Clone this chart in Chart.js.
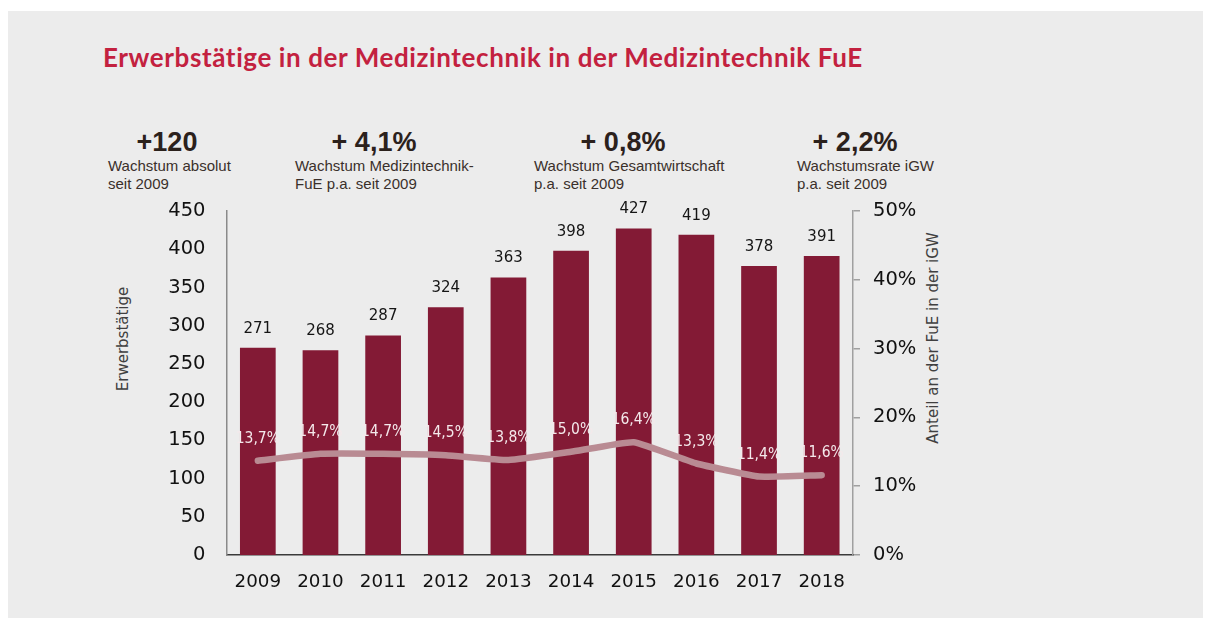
<!DOCTYPE html>
<html>
<head>
<meta charset="utf-8">
<script src="https://cdn.jsdelivr.net/npm/chart.js@4.4.0/dist/chart.umd.min.js"></script>
<style>
  html,body{margin:0;padding:0;background:#fff;width:1206px;height:618px;overflow:hidden;}
  #bg{position:absolute;left:8px;top:11px;width:1195px;height:607px;background:#ececec;}
  #wrap{position:absolute;left:0;top:0;width:1206px;height:618px;}
  .title{position:absolute;left:103px;top:44px;font:700 26px Lato,'Open Sans',sans-serif;line-height:26px;color:#c3213f;white-space:nowrap;letter-spacing:0.6px;}
  .kh{position:absolute;width:200px;text-align:center;top:129px;font:700 27px 'Liberation Sans',Arial,sans-serif;line-height:27px;color:#2b211c;white-space:nowrap;}
  .ks{position:absolute;top:157px;font:400 15px 'Liberation Sans',Arial,sans-serif;line-height:17.6px;color:#3a302b;white-space:nowrap;}
  .at{position:absolute;transform:translate(-50%,-50%) rotate(-90deg);font:400 15px 'DejaVu Sans',Verdana,sans-serif;color:#404040;white-space:nowrap;}
</style>
</head>
<body>
<div id="bg"></div>
<div class="title" id="title">Erwerbstätige in der Medizintechnik in der Medizintechnik FuE</div>
<div id="kpis"></div>
<div class="at" style="left:122.5px;top:338.5px;">Erwerbstätige</div>
<div class="at" style="left:933px;top:337.5px;">Anteil an der FuE in der iGW</div>
<div id="wrap"><canvas id="c" width="1206" height="618"></canvas></div>
<script>
// ---- data ----
const years = ['2009','2010','2011','2012','2013','2014','2015','2016','2017','2018'];
const employees = [271, 268, 287, 324, 363, 398, 427, 419, 378, 391];
const sharePct = [13.7, 14.7, 14.7, 14.5, 13.8, 15.0, 16.4, 13.3, 11.4, 11.6];
const kpiValues = ['+120', '+ 4,1%', '+ 0,8%', '+ 2,2%'];
const kpiTexts = [
  ['Wachstum absolut', 'seit 2009'],
  ['Wachstum Medizintechnik-', 'FuE p.a. seit 2009'],
  ['Wachstum Gesamtwirtschaft', 'p.a. seit 2009'],
  ['Wachstumsrate iGW', 'p.a. seit 2009']
];
const leftTickMax = 450, leftStep = 50;
const rightTickMax = 50, rightStep = 10;

// ---- KPI header layout ----
const kpiCenters = [167, 374, 623, 855];
const kpiSubLeft = [108, 295, 534, 797];
const kpis = document.getElementById('kpis');
kpiValues.forEach((v, i) => {
  const h = document.createElement('div');
  h.className = 'kh'; h.style.left = (kpiCenters[i] - 100) + 'px'; h.textContent = v;
  kpis.appendChild(h);
  const s = document.createElement('div');
  s.className = 'ks'; s.style.left = kpiSubLeft[i] + 'px';
  s.innerHTML = kpiTexts[i].join('<br>');
  kpis.appendChild(s);
});

const fmtPct = v => v.toFixed(1).replace('.', ',') + '%';

const valueLabels = {
  id: 'valueLabels',
  afterDatasetsDraw(chart) {
    const ctx = chart.ctx;
    ctx.save();
    ctx.textAlign = 'center';
    ctx.textBaseline = 'middle';
    chart.data.datasets.forEach((ds, i) => {
      const meta = chart.getDatasetMeta(i);
      meta.data.forEach((el, j) => {
        if (ds.type === 'bar') {
          ctx.font = "15px 'DejaVu Sans', Verdana, sans-serif";
          ctx.fillStyle = '#151515';
          ctx.fillText(String(ds.data[j]), el.x, el.y - 19);
        } else {
          ctx.font = "condensed 15.5px 'DejaVu Sans Condensed', 'DejaVu Sans', sans-serif";
          ctx.fillStyle = '#f4e9eb';
          ctx.fillText(fmtPct(ds.data[j]), el.x, el.y - 22);
        }
      });
    });
    ctx.restore();
  }
};

Chart.defaults.font.family = "'DejaVu Sans', Verdana, sans-serif";
Chart.defaults.color = '#111';

new Chart(document.getElementById('c'), {
  data: {
    labels: years,
    datasets: [
      {
        type: 'line', label: 'Anteil', data: sharePct, yAxisID: 'y1', order: 1,
        borderColor: '#b98b93', borderWidth: 6.5, pointRadius: 0, tension: 0.12,
        borderCapStyle: 'round', borderJoinStyle: 'round', fill: false
      },
      {
        type: 'bar', label: 'Erwerbstätige', data: employees, yAxisID: 'y', order: 2,
        backgroundColor: '#831a35', barPercentage: 0.57, categoryPercentage: 1.0
      }
    ]
  },
  options: {
    responsive: false, animation: false,
    layout: { padding: { top: 211, left: 0, right: 0, bottom: 0 } },
    plugins: { legend: { display: false }, tooltip: { enabled: false } },
    scales: {
      x: {
        grid: { display: false, drawTicks: false },
        border: { display: true, color: '#3a3a3a', width: 1.5 },
        ticks: { font: { size: 18.3 }, color: '#111', padding: 16, maxRotation: 0 },
        afterFit: s => { s.height = 63; }
      },
      y: {
        position: 'left', min: 0, max: leftTickMax,
        grid: { display: false, drawTicks: false },
        border: { display: true, color: '#8a8a8a', width: 1.5 },
        ticks: { stepSize: leftStep, font: { size: 19.5 }, color: '#111', padding: 21 },
        afterFit: s => { s.width = 226.5; }
      },
      y1: {
        position: 'right', min: 0, max: rightTickMax,
        grid: { drawOnChartArea: false, drawTicks: true, tickLength: 7, color: '#a0a0a0', lineWidth: 1.5 },
        border: { display: true, color: '#a0a0a0', width: 1.5 },
        ticks: { stepSize: rightStep, font: { size: 19.5 }, color: '#111', padding: 13, callback: v => v + '%' },
        afterFit: s => { s.width = 1206 - 853; }
      }
    }
  },
  plugins: [valueLabels]
});
</script>
</body>
</html>
